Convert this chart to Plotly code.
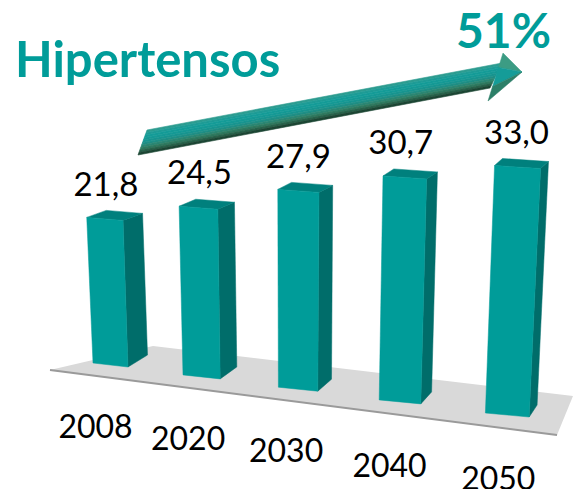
import plotly.graph_objects as go

# Data
categories = ["2008", "2020", "2030", "2040", "2050"]
values = [21.8, 24.5, 27.9, 30.7, 33.0]
title_text = "Hipertensos"
growth_text = "51%"

TEAL = "#009C99"
SIDE = "#006D6A"
TOP = "#00807D"
FONT = "Lato"
W, H = 574, 489


# Perspective mapping of (bar index, value) to the hidden pixel-sized axes
def base_left(i):
    return 93 + 87.3 * i + 2.7 * i * i, 363 + 11.7 * i + 0.2 * i * i


def unit(i):
    return 6.68 + 0.205 * i


def project(i, v, across=0.0, depth=0.0, vmax=1.0):
    bx, by = base_left(i)
    width = 35 + 2.2 * i
    h = v * unit(i)
    tilt = -0.043 + 0.02 * i + 0.009 * across
    x = bx + across * width + tilt * h
    y = by + across * 4 - h - across * 1.0 * (v / vmax)
    x += depth * (19.5 - 2.9 * i)
    y += depth * (-12 + 5 * v / vmax)
    return x, y


def poly(points, color):
    xs = [p[0] for p in points] + [points[0][0]]
    ys = [p[1] for p in points] + [points[0][1]]
    return go.Scatter(x=xs, y=ys, mode="lines", fill="toself", fillcolor=color,
                      line=dict(color=color, width=0.5), hoverinfo="skip", showlegend=False)


fig = go.Figure()
label_x, label_y, cat_x, cat_y = [], [], [], []
label_nudge = [1, 1, 0, -4, -1]
cat_nudge = [3, 3, 3, 5, 5]
for i, v in enumerate(values):
    fbl = project(i, 0, 0, 0, v)
    fbr = project(i, 0, 1, 0, v)
    ftl = project(i, v, 0, 0, v)
    ftr = project(i, v, 1, 0, v)
    bbr = project(i, 0, 1, 1, v)
    btr = project(i, v, 1, 1, v)
    btl = project(i, v, 0, 1, v)
    fig.add_trace(poly([fbr, bbr, btr, ftr], SIDE))
    fig.add_trace(poly([ftl, ftr, btr, btl], TOP))
    fig.add_trace(poly([fbl, fbr, ftr, ftl], TEAL))
    label_x.append((ftl[0] + ftr[0]) / 2 + label_nudge[i])
    label_y.append(ftl[1] - 30)
    cat_x.append((fbl[0] + fbr[0]) / 2 - 15 + 1.5 * i)
    cat_y.append(fbl[1] + 64 + cat_nudge[i])

fig.add_trace(go.Scatter(x=label_x, y=label_y, mode="text", cliponaxis=False,
                         text=[f"{v:.1f}".replace(".", ",") for v in values],
                         textposition="middle center", hoverinfo="skip", showlegend=False,
                         textfont=dict(family=FONT, size=33, color="#000000")))
fig.add_trace(go.Scatter(x=cat_x, y=cat_y, mode="text", cliponaxis=False,
                         text=categories, textposition="middle center",
                         hoverinfo="skip", showlegend=False,
                         textfont=dict(family=FONT, size=32, color="#000000")))

# Decoration: floor
shapes = [
    dict(type="path", path="M50,370 L153,346 L573,396 L557,435 Z", layer="below",
         fillcolor="#D9D9D9", line=dict(width=0)),
    dict(type="line", x0=50, y0=370, x1=557, y1=435, layer="below",
         line=dict(color="#9A9A9A", width=2)),
]


# Decoration: arrow with a banded gradient
def lerp(a, b, t):
    return a[0] + (b[0] - a[0]) * t, a[1] + (b[1] - a[1]) * t


band_colors = ["#2E9C90", "#1F9C96", "#159C98", "#159A96", "#179590", "#1E8F86",
               "#2A8774", "#2E7A60", "#28634B", "#1C4634"]
tail_top, tail_bot = (147, 130), (138, 155)
neck_top, neck_bot = (502, 63), (490, 88)
n = len(band_colors)
for k, c in enumerate(band_colors):
    t0, t1 = k / n, (k + 1) / n
    a = lerp(tail_top, tail_bot, t0)
    b = lerp(neck_top, neck_bot, t0)
    d = lerp(neck_top, neck_bot, t1)
    e = lerp(tail_top, tail_bot, t1)
    shapes.append(dict(type="path",
                       path=f"M{a[0]},{a[1]} L{b[0]},{b[1]} L{d[0]},{d[1]} L{e[0]},{e[1]} Z",
                       fillcolor=c, line=dict(color=c, width=0.6)))
head_top, tip, head_bot = (503, 53), (522, 72), (488, 101)
for pts, c in [((head_top, tip, lerp(head_top, head_bot, 0.3)), "#3C9C84"),
               ((lerp(head_top, head_bot, 0.3), tip, lerp(head_top, head_bot, 0.7)), "#159C98"),
               ((lerp(head_top, head_bot, 0.7), tip, head_bot), "#2C7F68")]:
    shapes.append(dict(type="path",
                       path=f"M{pts[0][0]},{pts[0][1]} L{pts[1][0]},{pts[1][1]} L{pts[2][0]},{pts[2][1]} Z",
                       fillcolor=c, line=dict(color=c, width=0.5)))

annotations = [
    dict(x=13, y=58, text=title_text, showarrow=False, xanchor="left", yanchor="middle",
         font=dict(family=FONT, size=49, color=TEAL, weight=700)),
    dict(x=503, y=29, text=growth_text, showarrow=False, xanchor="center", yanchor="middle",
         font=dict(family=FONT, size=48, color=TEAL, weight=700)),
]

fig.update_layout(
    width=W, height=H, autosize=False,
    margin=dict(l=0, r=0, t=0, b=0),
    paper_bgcolor="white", plot_bgcolor="white",
    showlegend=False,
    xaxis=dict(range=[0, W], visible=False, fixedrange=True),
    yaxis=dict(range=[H, 0], visible=False, fixedrange=True),
    shapes=shapes, annotations=annotations,
)

fig.write_html("out.html", config=dict(displayModeBar=False),
               post_script="document.body.style.margin='0';document.body.style.overflow='hidden';")
